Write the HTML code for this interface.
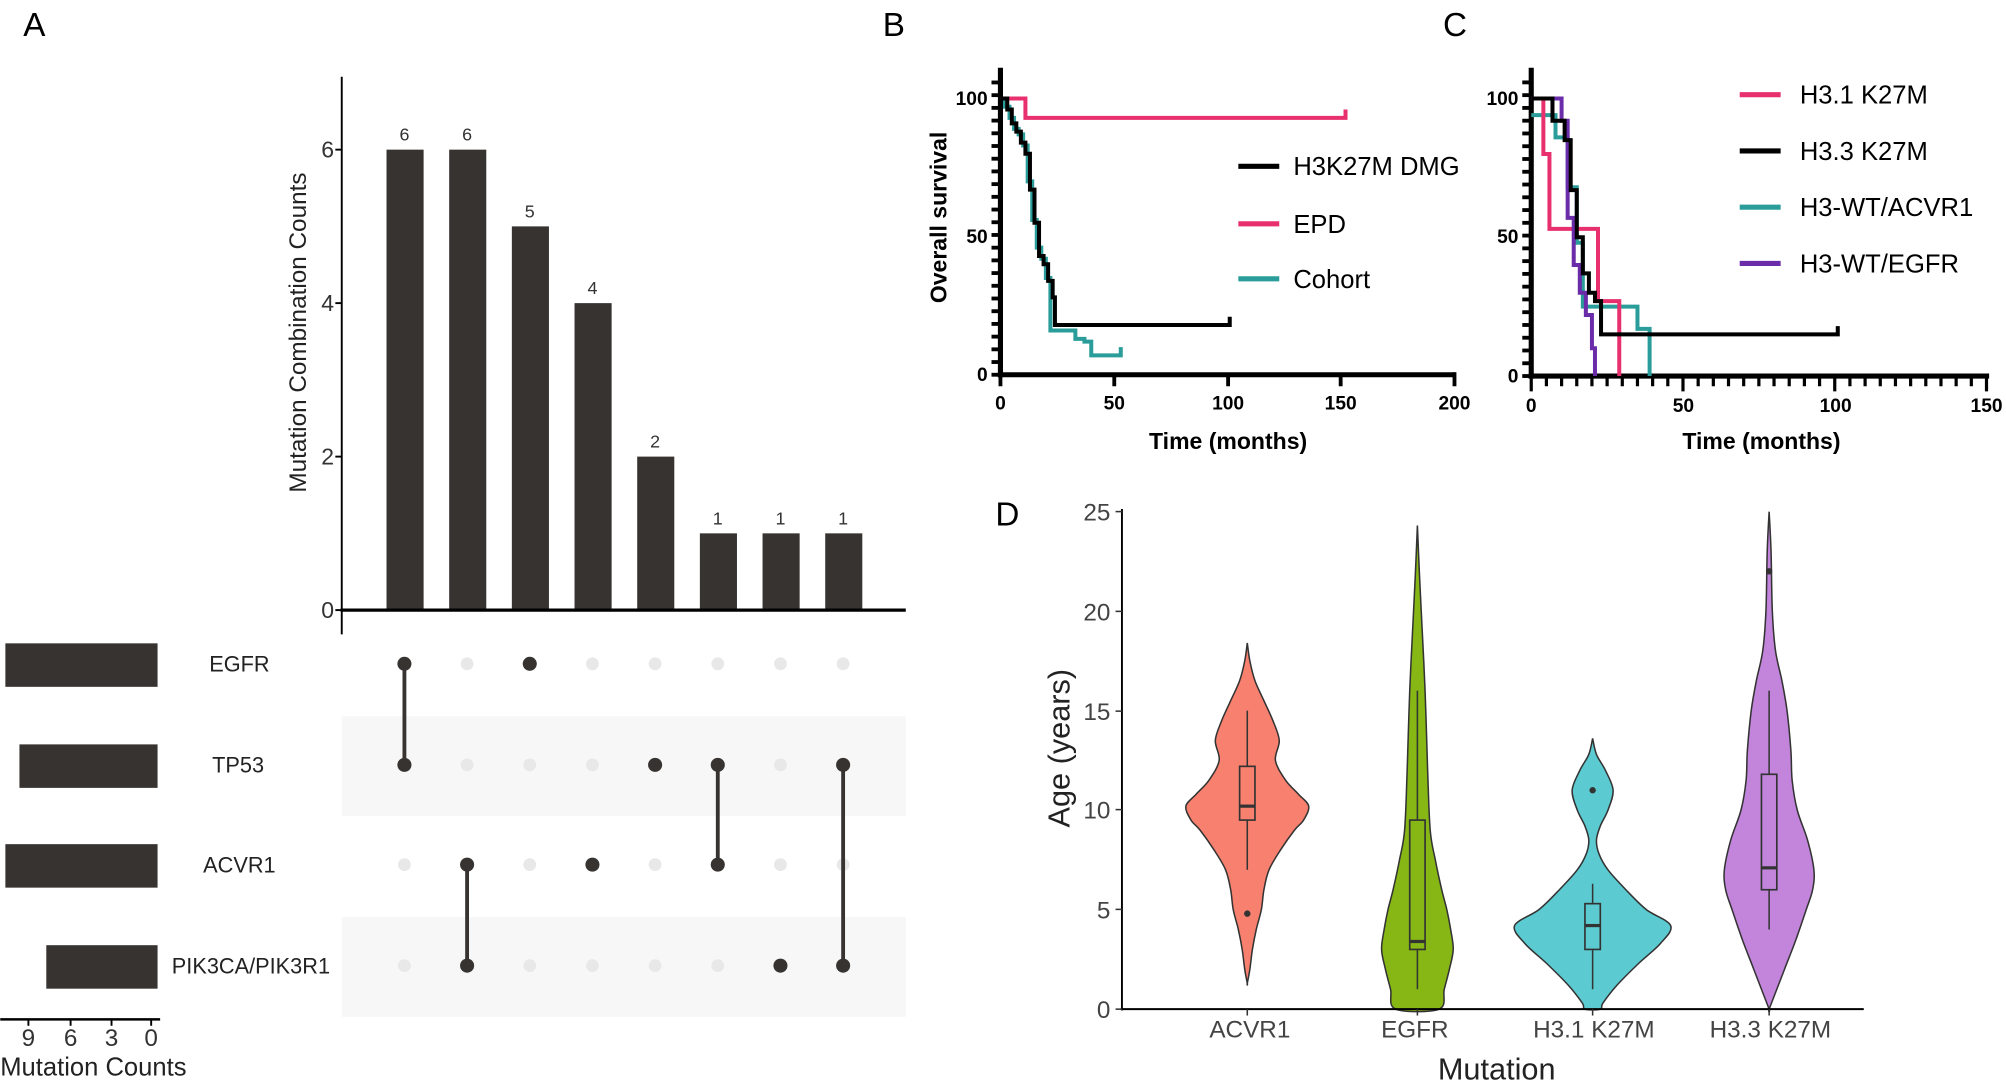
<!DOCTYPE html>
<html><head><meta charset="utf-8"><style>
html,body{margin:0;padding:0;background:#fff}
svg{display:block}
text{font-family:"Liberation Sans",Arial,sans-serif}
.ns{vector-effect:non-scaling-stroke}
</style></head><body>
<svg id="s" width="2006" height="1091" viewBox="0 0 1568 853" xmlns="http://www.w3.org/2000/svg">
<rect width="1568" height="853" fill="#fff"/>
<text x="18" y="28" font-size="26">A</text>
<rect x="267" y="560" width="441" height="78" fill="#f7f7f7"/>
<rect x="267" y="717" width="441" height="78" fill="#f7f7f7"/>
<g fill="#363331">
<rect x="302" y="117" width="29" height="360"/><rect x="351" y="117" width="29" height="360"/>
<rect x="400" y="177" width="29" height="300"/><rect x="449" y="237" width="29" height="240"/>
<rect x="498" y="357" width="29" height="120"/><rect x="547" y="417" width="29" height="60"/>
<rect x="596" y="417" width="29" height="60"/><rect x="645" y="417" width="29" height="60"/>
</g>
<g font-size="14" fill="#333" text-anchor="middle">
<text x="316" y="110">6</text><text x="365" y="110">6</text><text x="414" y="170">5</text><text x="463" y="230">4</text>
<text x="512" y="350">2</text><text x="561" y="410">1</text><text x="610" y="410">1</text><text x="659" y="410">1</text>
</g>
<line x1="267" y1="60" x2="267" y2="496" stroke="#000" stroke-width="1.5"/>
<line x1="266" y1="477" x2="708" y2="477" stroke="#000" stroke-width="2.5"/>
<g stroke="#000" stroke-width="1.5"><line x1="262" y1="477" x2="267" y2="477"/><line x1="262" y1="357" x2="267" y2="357"/><line x1="262" y1="237" x2="267" y2="237"/><line x1="262" y1="117" x2="267" y2="117"/></g>
<g font-size="18" fill="#333" text-anchor="end"><text x="261" y="483">0</text><text x="261" y="363">2</text><text x="261" y="243">4</text><text x="261" y="123">6</text></g>
<text transform="translate(239,260) rotate(-90)" font-size="19" text-anchor="middle" fill="#222">Mutation Combination Counts</text>
<g fill="#e8e8e8">
<circle cx="365" cy="519" r="5"/><circle cx="463" cy="519" r="5"/><circle cx="512" cy="519" r="5"/><circle cx="561" cy="519" r="5"/><circle cx="610" cy="519" r="5"/><circle cx="659" cy="519" r="5"/>
<circle cx="365" cy="598" r="5"/><circle cx="414" cy="598" r="5"/><circle cx="463" cy="598" r="5"/><circle cx="610" cy="598" r="5"/>
<circle cx="316" cy="676" r="5"/><circle cx="414" cy="676" r="5"/><circle cx="512" cy="676" r="5"/><circle cx="610" cy="676" r="5"/><circle cx="659" cy="676" r="5"/>
<circle cx="316" cy="755" r="5"/><circle cx="414" cy="755" r="5"/><circle cx="463" cy="755" r="5"/><circle cx="512" cy="755" r="5"/><circle cx="561" cy="755" r="5"/>
</g>
<g stroke="#363331" stroke-width="3"><line x1="316" y1="519" x2="316" y2="598"/><line x1="365" y1="676" x2="365" y2="755"/><line x1="561" y1="598" x2="561" y2="676"/><line x1="659" y1="598" x2="659" y2="755"/></g>
<g fill="#363331">
<circle cx="316" cy="519" r="5.5"/><circle cx="316" cy="598" r="5.5"/><circle cx="365" cy="676" r="5.5"/><circle cx="365" cy="755" r="5.5"/>
<circle cx="414" cy="519" r="5.5"/><circle cx="463" cy="676" r="5.5"/><circle cx="512" cy="598" r="5.5"/>
<circle cx="561" cy="598" r="5.5"/><circle cx="561" cy="676" r="5.5"/><circle cx="610" cy="755" r="5.5"/><circle cx="659" cy="598" r="5.5"/><circle cx="659" cy="755" r="5.5"/>
</g>
<g fill="#363331"><rect x="4" y="503" width="119" height="34"/><rect x="15" y="582" width="108" height="34"/><rect x="4" y="660" width="119" height="34"/><rect x="36" y="739" width="87" height="34"/></g>
<g font-size="17" fill="#222" text-anchor="middle"><text x="187" y="525">EGFR</text><text x="186" y="604">TP53</text><text x="187" y="682">ACVR1</text><text x="196" y="761">PIK3CA/PIK3R1</text></g>
<line x1="0" y1="797" x2="125" y2="797" stroke="#000" stroke-width="2"/>
<g stroke="#000" stroke-width="1.5"><line x1="22" y1="797" x2="22" y2="802"/><line x1="55" y1="797" x2="55" y2="802"/><line x1="87" y1="797" x2="87" y2="802"/><line x1="118" y1="797" x2="118" y2="802"/></g>
<g font-size="19" fill="#333" text-anchor="middle"><text x="22" y="818">9</text><text x="55" y="818">6</text><text x="87" y="818">3</text><text x="118" y="818">0</text></g>
<text x="0" y="841" font-size="20" fill="#222">Mutation Counts</text>

<text x="690" y="28" font-size="26">B</text>
<g id="bt"></g>
<line x1="782" y1="53" x2="782" y2="295" stroke="#000" stroke-width="4"/>
<line x1="780" y1="293" x2="1137" y2="293" stroke="#000" stroke-width="4"/>
<g stroke="#000" stroke-width="3"><line x1="871" y1="293" x2="871" y2="302"/><line x1="960" y1="293" x2="960" y2="302"/><line x1="1048" y1="293" x2="1048" y2="302"/><line x1="1137" y1="291" x2="1137" y2="302"/><line x1="782" y1="293" x2="782" y2="302"/></g>
<g font-size="15" font-weight="bold" text-anchor="middle"><text x="782" y="320">0</text><text x="871" y="320">50</text><text x="960" y="320">100</text><text x="1048" y="320">150</text><text x="1137" y="320">200</text></g>
<g font-size="15" font-weight="bold" text-anchor="end"><text x="772" y="82">100</text><text x="772" y="190">50</text><text x="772" y="298">0</text></g>
<text x="960" y="351" font-size="18" font-weight="bold" text-anchor="middle">Time (months)</text>
<text transform="translate(740,170) rotate(-90)" font-size="18" font-weight="bold" text-anchor="middle">Overall survival</text>
<g transform="translate(782,293) scale(1.775,-2.16)" fill="none" stroke-width="4">
<path class="ns" stroke="#e8306f" d="M0,100 H11 V93 H152 V96"/>
<path class="ns" stroke="#2a9d9a" d="M0,100 H2 V97 H4 V93 H6 V89 H8 V87 H10 V83 H12 V70 H14 V56 H16 V46 H18 V42 H20 V35 H22 V16 H30 V16 H33 V13 H37 V12 H40 V7 H53 V10"/>
<path class="ns" stroke="#000" d="M0,100 H3 V96 H5 V91 H7 V88 H9 V84 H11 V80 H13 V67 H15 V55 H17 V43 H19 V40 H21 V34 H23 V28 H24 V18 H101 V21"/>
</g>
<g stroke-width="4"><line x1="968" y1="130" x2="1000" y2="130" stroke="#000"/><line x1="968" y1="175" x2="1000" y2="175" stroke="#e8306f"/><line x1="968" y1="218" x2="1000" y2="218" stroke="#2a9d9a"/></g>
<g font-size="20"><text x="1011" y="137">H3K27M DMG</text><text x="1011" y="182">EPD</text><text x="1011" y="225">Cohort</text></g>

<text x="1128" y="28" font-size="26">C</text>
<g id="ct"></g>
<line x1="1197" y1="53" x2="1197" y2="296" stroke="#000" stroke-width="4"/>
<line x1="1195" y1="294" x2="1555" y2="294" stroke="#000" stroke-width="4"/>
<g font-size="15" font-weight="bold" text-anchor="middle"><text x="1197" y="322">0</text><text x="1316" y="322">50</text><text x="1435" y="322">100</text><text x="1553" y="322">150</text></g>
<g font-size="15" font-weight="bold" text-anchor="end"><text x="1187" y="82">100</text><text x="1187" y="190">50</text><text x="1187" y="299">0</text></g>
<text x="1377" y="351" font-size="18" font-weight="bold" text-anchor="middle">Time (months)</text>
<g transform="translate(1197,294) scale(2.373,-2.17)" fill="none" stroke-width="4">
<path class="ns" stroke="#2a9d9a" d="M0,94 H8 V86 H12 V68 H15 V48 H17 V25 H35 V17 H39 V0"/>
<path class="ns" stroke="#e8306f" d="M0,100 H4 V80 H6 V53 H22 V27 H29 V0"/>
<path class="ns" stroke="#6a2ca8" d="M0,100 H10 V92 H12 V57 H14 V40 H16 V30 H18 V22 H20 V10 H21 V0"/>
<path class="ns" stroke="#000" d="M0,100 H7 V92 H11 V85 H13 V67 H15 V50 H17 V37 H19 V30 H21 V27 H23 V15 H101 V18"/>
</g>
<g stroke-width="4"><line x1="1360" y1="74" x2="1392" y2="74" stroke="#e8306f"/><line x1="1360" y1="118" x2="1392" y2="118" stroke="#000"/><line x1="1360" y1="162" x2="1392" y2="162" stroke="#2a9d9a"/><line x1="1360" y1="206" x2="1392" y2="206" stroke="#6a2ca8"/></g>
<g font-size="20"><text x="1407" y="81">H3.1 K27M</text><text x="1407" y="125">H3.3 K27M</text><text x="1407" y="169">H3-WT/ACVR1</text><text x="1407" y="213">H3-WT/EGFR</text></g>

<text x="778" y="411" font-size="26">D</text>
<g id="vio"></g>
<line x1="877" y1="398" x2="877" y2="790" stroke="#000" stroke-width="1.5"/>
<line x1="876" y1="789" x2="1457" y2="789" stroke="#000" stroke-width="1.5"/>
<g stroke="#333" stroke-width="1.2">
<line x1="872" y1="789" x2="877" y2="789"/><line x1="872" y1="711" x2="877" y2="711"/><line x1="872" y1="633" x2="877" y2="633"/><line x1="872" y1="556" x2="877" y2="556"/><line x1="872" y1="478" x2="877" y2="478"/><line x1="872" y1="400" x2="877" y2="400"/>
<line x1="975" y1="789" x2="975" y2="794"/><line x1="1108" y1="789" x2="1108" y2="794"/><line x1="1245" y1="789" x2="1245" y2="794"/><line x1="1383" y1="789" x2="1383" y2="794"/>
</g>
<g font-size="19" fill="#444" text-anchor="end"><text x="868" y="796">0</text><text x="868" y="718">5</text><text x="868" y="640">10</text><text x="868" y="563">15</text><text x="868" y="485">20</text><text x="868" y="407">25</text></g>
<g font-size="19" fill="#444" text-anchor="middle"><text x="977" y="811">ACVR1</text><text x="1106" y="811">EGFR</text><text x="1246" y="811">H3.1 K27M</text><text x="1384" y="811">H3.3 K27M</text></g>
<text x="1170" y="844" font-size="24" text-anchor="middle" fill="#222">Mutation</text>
<text transform="translate(836,585) rotate(-90)" font-size="24" text-anchor="middle" fill="#222">Age (years)</text>
</svg>
<script>
var NS="http://www.w3.org/2000/svg";
function el(p,t,a){var e=document.createElementNS(NS,t);for(var k in a)e.setAttribute(k,a[k]);p.appendChild(e);return e;}
var bt=document.getElementById('bt');
for(var v=0;v<=110;v+=4.6){var y=293-v*2.16;el(bt,'line',{x1:775,y1:y,x2:782,y2:y,stroke:'#000','stroke-width':3});}
var ct=document.getElementById('ct');
for(var v=0;v<=110;v+=4.6){var y=294-v*2.17;el(ct,'line',{x1:1190,y1:y,x2:1197,y2:y,stroke:'#000','stroke-width':3});}
for(var m=0;m<=150;m+=5){var x=1197+m*2.373;var L=(m%50==0)?12:8;el(ct,'line',{x1:x,y1:294,x2:x,y2:294+L,stroke:'#000','stroke-width':2.5});}
function Y(v){return 789-15.56*v;}
var vio=document.getElementById('vio');
function violin(cx,prof,col){
 var pts=[];prof.forEach(function(p){pts.push([cx+p[1],Y(p[0])]);});
 var rev=prof.slice().reverse();rev.forEach(function(p){pts.push([cx-p[1],Y(p[0])]);});
 var d="M"+pts[0][0]+","+pts[0][1];
 for(var i=0;i<pts.length-1;i++){var p0=pts[Math.max(i-1,0)],p1=pts[i],p2=pts[i+1],p3=pts[Math.min(i+2,pts.length-1)];
  var c1=[p1[0]+(p2[0]-p0[0])/6,p1[1]+(p2[1]-p0[1])/6],c2=[p2[0]-(p3[0]-p1[0])/6,p2[1]-(p3[1]-p1[1])/6];
  d+=" C"+c1[0]+","+c1[1]+" "+c2[0]+","+c2[1]+" "+p2[0]+","+p2[1];}
 el(vio,'path',{d:d+"Z",fill:col,stroke:'#333','stroke-width':1.2});
}
function box(cx,lo,q1,med,q3,hi,outs){
 el(vio,'line',{x1:cx,y1:Y(hi),x2:cx,y2:Y(q3),stroke:'#333','stroke-width':1.2});
 el(vio,'line',{x1:cx,y1:Y(q1),x2:cx,y2:Y(lo),stroke:'#333','stroke-width':1.2});
 el(vio,'rect',{x:cx-6,y:Y(q3),width:12,height:Y(q1)-Y(q3),fill:'none',stroke:'#333','stroke-width':1.3});
 el(vio,'line',{x1:cx-6,y1:Y(med),x2:cx+6,y2:Y(med),stroke:'#333','stroke-width':2.5});
 outs.forEach(function(o){el(vio,'circle',{cx:cx,cy:Y(o),r:2.5,fill:'#333'});});
}
violin(975,[[18.4,0],[17.5,2],[16.5,6],[15.5,13],[14.5,20],[13.5,25],[12.5,22],[11.5,30],[10.8,40],[10.2,48],[9.5,44],[9,37],[8,26],[7,17],[6,13],[5,11],[4,7],[3,4],[2,2],[1.3,0]],'#f8806f');
box(975,7,9.5,10.2,12.2,15,[4.8]);
violin(1108,[[24.3,0],[22,1.5],[20,3],[16,6],[12,8],[9,10],[7.5,14],[6,19],[5,23],[4,26],[3,28],[2,25],[1,21],[0,17]],'#86b715');
box(1108,1,3,3.4,9.5,16,[]);
violin(1245,[[13.6,0],[12.8,3],[12,10],[11,16],[10,12],[9.2,6],[8.5,3],[7.8,5],[7,12],[6,26],[5,42],[4.2,61],[3.3,53],[2.3,36],[1.2,19],[0.3,8],[0,6]],'#5ccbd1');
box(1245,1,3,4.2,5.3,6.3,[11]);
violin(1383,[[25,0],[23,1.5],[20,2.5],[18,5],[16.5,10],[15,14],[13,17],[11.5,18],[10,22],[8.5,30],[7,35],[6,34],[5,29],[3.5,21],[2,12],[1,6],[0,0]],'#c285db');
box(1383,4,6,7.1,11.8,16,[22]);
</script>
</body></html>
